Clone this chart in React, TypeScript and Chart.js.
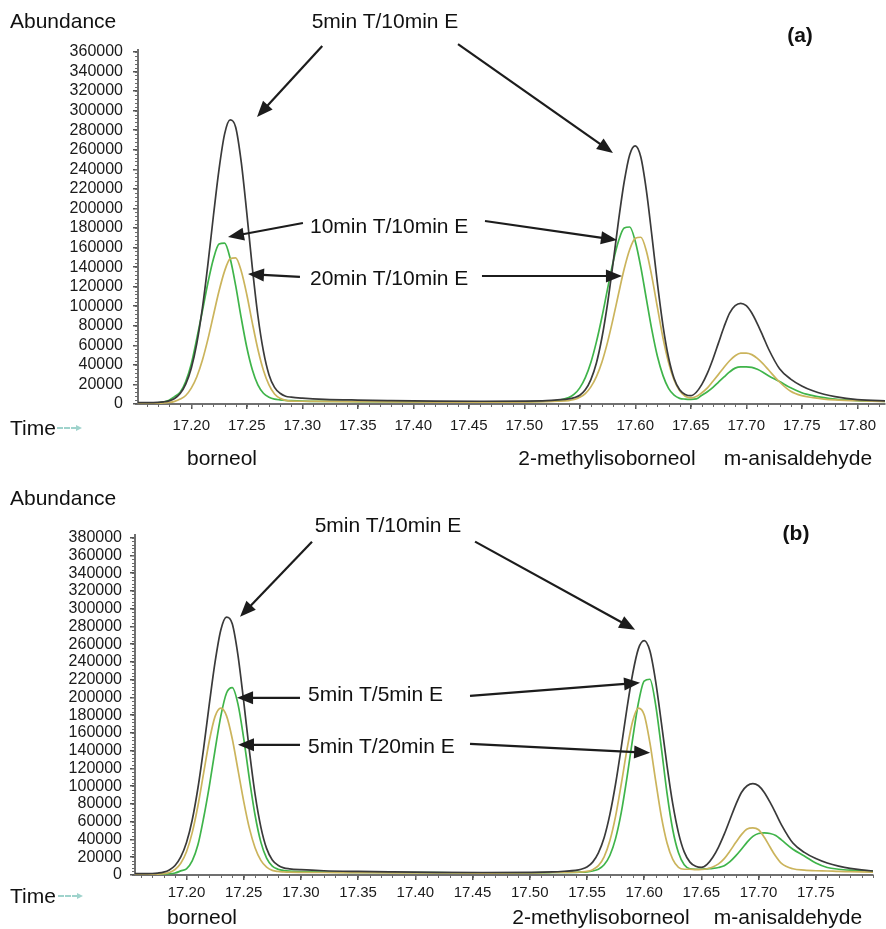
import React, { useEffect, useRef } from 'react';
import { Chart, registerables } from 'chart.js';

Chart.register(...registerables);

const FONT = "'Liberation Sans', Arial, Helvetica, sans-serif";

// Retention time grid (min)
const TIME = [
  17.15, 17.16, 17.17, 17.175, 17.18, 17.185, 17.19, 17.195, 17.2, 17.205,
  17.21, 17.215, 17.22, 17.225, 17.23, 17.235, 17.24, 17.245, 17.25, 17.255,
  17.26, 17.265, 17.27, 17.275, 17.28, 17.285, 17.29, 17.3, 17.32, 17.35,
  17.38, 17.42, 17.46, 17.5, 17.52, 17.53, 17.54, 17.545, 17.55, 17.555,
  17.56, 17.565, 17.57, 17.575, 17.58, 17.585, 17.59, 17.595, 17.6, 17.605,
  17.61, 17.615, 17.62, 17.625, 17.63, 17.635, 17.64, 17.645, 17.65, 17.655,
  17.66, 17.665, 17.67, 17.675, 17.68, 17.685, 17.69, 17.695, 17.7, 17.705,
  17.71, 17.715, 17.72, 17.73, 17.74, 17.75, 17.76, 17.77, 17.78, 17.8,
  17.83,
];

// 5 min thermal desorption / 10 min extraction (shown in both panels)
const ABUND_5T_10E = [
  1500, 1500, 1700, 2200, 3200, 5700, 10700, 20300, 36600, 62000,
  98000, 143000, 193000, 240000, 276000, 290500, 283000, 247500, 195500, 139500,
  90500, 54000, 30000, 17000, 11000, 8000, 7000, 6000, 4800, 4000,
  3500, 3000, 2800, 3000, 3500, 4200, 5200, 6500, 9000, 14500,
  25000, 42000, 68000, 102500, 144000, 188000, 227000, 255000, 264000, 252500,
  218500, 172000, 123000, 80000, 47500, 26000, 14500, 9800, 8500, 12000,
  20000, 31500, 46000, 62500, 79000, 93000, 100500, 103000, 100500, 93000,
  82000, 69500, 56500, 36000, 25500, 18500, 13500, 10000, 7500, 4500,
  3000,
];

// 10 min T / 10 min E
const ABUND_10T_10E = [
  800, 900, 1300, 2200, 3900, 7600, 12000, 23000, 41000, 67000,
  95000, 124000, 148500, 163500, 164500, 149000, 121000, 88000, 58000, 35000,
  19500, 11000, 7000, 5000, 4200, 3700, 3400, 3000, 2700, 2500,
  2300, 2200, 2000, 2200, 2800, 3500, 6500, 10000, 16500, 27000,
  42500, 63500, 89000, 117500, 145000, 167000, 180000, 181000, 166500, 140000,
  107500, 75500, 48500, 29000, 16000, 9000, 5800, 5000, 4800, 5200,
  8900, 12500, 17000, 22300, 27700, 32800, 36700, 38000, 38000, 37500,
  35500, 32500, 29000, 23000, 16500, 11500, 8500, 6500, 5000, 3500,
  2500,
];

// 20 min T / 10 min E
const ABUND_20T_10E = [
  500, 600, 700, 1000, 1500, 2700, 5000, 8700, 16200, 27900,
  44700, 66300, 91000, 115500, 135900, 148500, 149500, 136000, 112000, 83000,
  56000, 34500, 19500, 10200, 5800, 3700, 3000, 2800, 2600, 2400,
  2200, 2000, 1900, 2000, 2400, 2800, 3500, 4600, 6800, 10700,
  17500, 28000, 43000, 63000, 87000, 113000, 138000, 158000, 169500, 170500,
  156500, 130000, 98500, 67500, 42500, 24500, 13500, 8000, 6300, 7600,
  11500, 16500, 23300, 30300, 37500, 44200, 49300, 52000, 52000, 50500,
  46700, 41300, 35000, 22500, 13000, 8500, 6500, 5000, 4200, 3300,
  2500,
];

// 5 min T / 5 min E
const ABUND_5T_5E = [
  800, 800, 900, 1000, 1100, 1400, 2300, 4600, 7000, 16000,
  34000, 64500, 100500, 141000, 179000, 205000, 211000, 192500, 154000, 108000,
  67000, 37000, 19000, 10000, 6500, 5000, 4300, 3800, 3300, 3000,
  2800, 2600, 2400, 2500, 2800, 3000, 3000, 3200, 3500, 4500,
  6500, 11500, 22000, 41000, 70500, 110000, 154000, 194000, 218500, 220500,
  192000, 143500, 92000, 51000, 25000, 11500, 7000, 6500, 6500, 7000,
  7500, 8500, 10500, 15000, 21500, 29000, 37000, 43500, 46800, 47400,
  46800, 44500, 39500, 29000, 21500, 13500, 8500, 6500, 5500, 4500,
  3500,
];

// 5 min T / 20 min E
const ABUND_5T_20E = [
  800, 800, 900, 1000, 1500, 2900, 6200, 13200, 26200, 47700,
  78000, 115000, 151500, 178700, 188000, 179300, 153500, 118500, 83000, 52500,
  30500, 16500, 8800, 5200, 4000, 3500, 3200, 3000, 2800, 2600,
  2400, 2300, 2200, 2300, 2800, 3000, 3100, 3400, 4000, 6000,
  10500, 20500, 38500, 66000, 102500, 141500, 173500, 188000, 180500, 149000,
  106500, 66000, 36000, 17500, 8500, 6500, 6500, 6000, 6200, 7000,
  9000, 12500, 18500, 27000, 36500, 45500, 51800, 53000, 51000, 42500,
  31500, 21000, 13000, 7000, 5500, 4800, 4500, 4000, 3800, 3200,
  2800,
];

const Y_TICKS_A = [
  0, 20000, 40000, 60000, 80000, 100000, 120000, 140000, 160000, 180000,
  200000, 220000, 240000, 260000, 280000, 300000, 320000, 340000, 360000,
];
const Y_TICKS_B = [
  0, 20000, 40000, 60000, 80000, 100000, 120000, 140000, 160000, 180000,
  200000, 220000, 240000, 260000, 280000, 300000, 320000, 340000, 360000, 380000,
];
const X_LABELS_A = [
  '17.20', '17.25', '17.30', '17.35', '17.40', '17.45', '17.50',
  '17.55', '17.60', '17.65', '17.70', '17.75', '17.80',
];
const X_LABELS_B = [
  '17.20', '17.25', '17.30', '17.35', '17.40', '17.45', '17.50',
  '17.55', '17.60', '17.65', '17.70', '17.75',
];

const C_BLACK = '#3a3a3a';
const C_GREEN = '#3fb44a';
const C_YELLOW = '#cbb45c';

type Arrow = { from: [number, number]; to: [number, number] };

// Callout arrows, in (time, abundance) coordinates
const ARROWS_A: Arrow[] = [
  { from: [17.318, 366000], to: [17.2592, 293500] },
  { from: [17.4403, 368000], to: [17.5799, 256700] },
  { from: [17.3006, 185100], to: [17.2331, 170800] },
  { from: [17.4646, 187100], to: [17.5835, 167700] },
  { from: [17.2979, 129900], to: [17.2511, 132900] },
  { from: [17.4619, 130900], to: [17.588, 130900] },
];
const ARROWS_B: Arrow[] = [
  { from: [17.3097, 375500], to: [17.2468, 290900] },
  { from: [17.4522, 375500], to: [17.5921, 276300] },
  { from: [17.2992, 199600], to: [17.2442, 199600] },
  { from: [17.4478, 201800], to: [17.5964, 216500] },
  { from: [17.2992, 146600], to: [17.245, 146600] },
  { from: [17.4478, 147700], to: [17.6052, 137600] },
];

interface Trace { values: number[]; color: string }

interface PanelProps {
  top: number;
  height: number;
  xMin: number;
  xMax: number;
  yMax: number;
  yTicks: number[];
  xLabels: string[];
  traces: Trace[];
  arrows: Arrow[];
  padTop: number;
  padRight: number;
  yAxisWidth: number;
  xAxisHeight: number;
  yLabelPad: number;
  xLabelPad: number;
}

function ChromPanel(p: PanelProps) {
  const ref = useRef<HTMLCanvasElement>(null);

  useEffect(() => {
    const canvas = ref.current;
    if (!canvas) return;

    // fine ruler marks along both axes
    const rulerPlugin = {
      id: 'ruler',
      afterDraw(chart: any) {
        const { ctx } = chart;
        const xs = chart.scales.x;
        const ys = chart.scales.y;
        ctx.save();
        ctx.strokeStyle = '#6a6a6a';
        ctx.lineWidth = 1;
        for (let k = Math.ceil(xs.min * 100); k <= Math.floor(xs.max * 100 + 1e-6); k++) {
          const px = Math.round(xs.getPixelForValue(k / 100)) + 0.5;
          ctx.beginPath();
          ctx.moveTo(px, ys.bottom);
          ctx.lineTo(px, ys.bottom + 3);
          ctx.stroke();
        }
        for (let v = 0; v <= ys.max; v += 4000) {
          const py = Math.round(ys.getPixelForValue(v)) + 0.5;
          ctx.beginPath();
          ctx.moveTo(xs.left - 3, py);
          ctx.lineTo(xs.left, py);
          ctx.stroke();
        }
        ctx.restore();
      },
    };

    const arrowPlugin = {
      id: 'callouts',
      afterDraw(chart: any) {
        const { ctx } = chart;
        const xs = chart.scales.x;
        const ys = chart.scales.y;
        ctx.save();
        ctx.strokeStyle = '#1c1c1c';
        ctx.fillStyle = '#1c1c1c';
        ctx.lineWidth = 2.2;
        const L = 16;
        const W = 6.5;
        for (const a of p.arrows) {
          const x0 = xs.getPixelForValue(a.from[0]);
          const y0 = ys.getPixelForValue(a.from[1]);
          const x1 = xs.getPixelForValue(a.to[0]);
          const y1 = ys.getPixelForValue(a.to[1]);
          const ang = Math.atan2(y1 - y0, x1 - x0);
          const c = Math.cos(ang);
          const s = Math.sin(ang);
          const bx = x1 - L * c;
          const by = y1 - L * s;
          ctx.beginPath();
          ctx.moveTo(x0, y0);
          ctx.lineTo(bx + c, by + s);
          ctx.stroke();
          ctx.beginPath();
          ctx.moveTo(x1, y1);
          ctx.lineTo(bx + W * s, by - W * c);
          ctx.lineTo(bx - W * s, by + W * c);
          ctx.closePath();
          ctx.fill();
        }
        ctx.restore();
      },
    };

    const chart = new Chart(canvas, {
      type: 'line',
      data: {
        datasets: p.traces.map((tr) => ({
          data: TIME.map((t, i) => ({ x: t, y: tr.values[i] })),
          borderColor: tr.color,
          borderWidth: 1.7,
          pointRadius: 0,
          fill: false,
          cubicInterpolationMode: 'monotone' as const,
        })),
      },
      options: {
        animation: false,
        responsive: false,
        maintainAspectRatio: false,
        events: [],
        layout: { padding: { top: p.padTop, right: p.padRight, left: 0, bottom: 0 } },
        plugins: {
          legend: { display: false },
          tooltip: { enabled: false },
        },
        scales: {
          x: {
            type: 'linear',
            min: p.xMin,
            max: p.xMax,
            afterBuildTicks: (scale: any) => {
              scale.ticks = p.xLabels.map((l) => ({ value: parseFloat(l) }));
            },
            afterFit: (scale: any) => {
              scale.height = p.xAxisHeight;
            },
            ticks: {
              callback: (_v: any, i: number) => p.xLabels[i],
              autoSkip: false,
              maxRotation: 0,
              minRotation: 0,
              padding: p.xLabelPad,
              color: '#1a1a1a',
              font: { family: FONT, size: 15 },
            },
            grid: {
              drawOnChartArea: false,
              drawTicks: true,
              tickLength: 5,
              color: '#555555',
              lineWidth: 1.5,
            },
            border: { display: true, color: '#707070', width: 2 },
          },
          y: {
            type: 'linear',
            min: 0,
            max: p.yMax,
            afterBuildTicks: (scale: any) => {
              scale.ticks = p.yTicks.map((v) => ({ value: v }));
            },
            afterFit: (scale: any) => {
              scale.width = p.yAxisWidth;
            },
            ticks: {
              callback: (v: any) => String(v),
              autoSkip: false,
              padding: p.yLabelPad,
              color: '#1a1a1a',
              font: { family: FONT, size: 16 },
            },
            grid: {
              drawOnChartArea: false,
              drawTicks: true,
              tickLength: 5,
              color: '#555555',
              lineWidth: 1.5,
            },
            border: { display: true, color: '#707070', width: 2 },
          },
        },
      },
      plugins: [rulerPlugin, arrowPlugin],
    });

    return () => chart.destroy();
  }, []);

  return (
    <canvas
      ref={ref}
      width={886}
      height={p.height}
      style={{ position: 'absolute', left: 0, top: p.top, width: 886, height: p.height }}
    />
  );
}

interface TextProps {
  x: number;
  y: number;
  text: string;
  align?: 'left' | 'center';
  size?: number;
  bold?: boolean;
}

function Text({ x, y, text, align = 'left', size = 21, bold = false }: TextProps) {
  return (
    <div
      style={{
        position: 'absolute',
        left: x,
        top: y,
        transform: align === 'center' ? 'translate(-50%, -50%)' : 'translate(0, -50%)',
        fontFamily: FONT,
        fontSize: size,
        fontWeight: bold ? 700 : 400,
        lineHeight: 1,
        whiteSpace: 'nowrap',
        color: '#111',
        zIndex: 2,
      }}
    >
      {text}
    </div>
  );
}

function TimeArrow({ x, y }: { x: number; y: number }) {
  return (
    <div style={{ position: 'absolute', left: x, top: y, zIndex: 2 }}>
      <div style={{ width: 20, borderTop: '2px dashed #9fd3cc', position: 'absolute', left: 0, top: 0 }} />
      <div
        style={{
          position: 'absolute',
          left: 19,
          top: -2,
          width: 0,
          height: 0,
          borderTop: '3px solid transparent',
          borderBottom: '3px solid transparent',
          borderLeft: '6px solid #9fd3cc',
        }}
      />
    </div>
  );
}

export default function App() {
  useEffect(() => {
    document.body.style.margin = '0';
  }, []);

  return (
    <div style={{ position: 'relative', width: 886, height: 929, overflow: 'hidden', background: '#fff' }}>
      <ChromPanel
        top={0}
        height={465}
        xMin={17.152}
        xMax={17.825}
        yMax={362000}
        yTicks={Y_TICKS_A}
        xLabels={X_LABELS_A}
        traces={[
          { values: ABUND_5T_10E, color: C_BLACK },
          { values: ABUND_20T_10E, color: C_YELLOW },
          { values: ABUND_10T_10E, color: C_GREEN },
        ]}
        arrows={ARROWS_A}
        padTop={50}
        padRight={1}
        yAxisWidth={138}
        xAxisHeight={61}
        yLabelPad={10}
        xLabelPad={8}
      />
      <ChromPanel
        top={465}
        height={464}
        xMin={17.155}
        xMax={17.8}
        yMax={383000}
        yTicks={Y_TICKS_B}
        xLabels={X_LABELS_B}
        traces={[
          { values: ABUND_5T_10E, color: C_BLACK },
          { values: ABUND_5T_20E, color: C_YELLOW },
          { values: ABUND_5T_5E, color: C_GREEN },
        ]}
        arrows={ARROWS_B}
        padTop={70}
        padRight={13}
        yAxisWidth={135}
        xAxisHeight={54}
        yLabelPad={8}
        xLabelPad={4}
      />

      {/* panel (a) */}
      <Text x={10} y={20} text="Abundance" />
      <Text x={385} y={20} text="5min T/10min E" align="center" />
      <Text x={800} y={34} text="(a)" align="center" bold />
      <Text x={310} y={225} text="10min T/10min E" />
      <Text x={310} y={277} text="20min T/10min E" />
      <Text x={10} y={427} text="Time" />
      <TimeArrow x={57} y={427} />
      <Text x={222} y={457} text="borneol" align="center" />
      <Text x={607} y={457} text="2-methylisoborneol" align="center" />
      <Text x={798} y={457} text="m-anisaldehyde" align="center" />

      {/* panel (b) */}
      <Text x={10} y={497} text="Abundance" />
      <Text x={388} y={524} text="5min T/10min E" align="center" />
      <Text x={796} y={532} text="(b)" align="center" bold />
      <Text x={308} y={693} text="5min T/5min E" />
      <Text x={308} y={745} text="5min T/20min E" />
      <Text x={10} y={895} text="Time" />
      <TimeArrow x={58} y={895} />
      <Text x={202} y={916} text="borneol" align="center" />
      <Text x={601} y={916} text="2-methylisoborneol" align="center" />
      <Text x={788} y={916} text="m-anisaldehyde" align="center" />
    </div>
  );
}
